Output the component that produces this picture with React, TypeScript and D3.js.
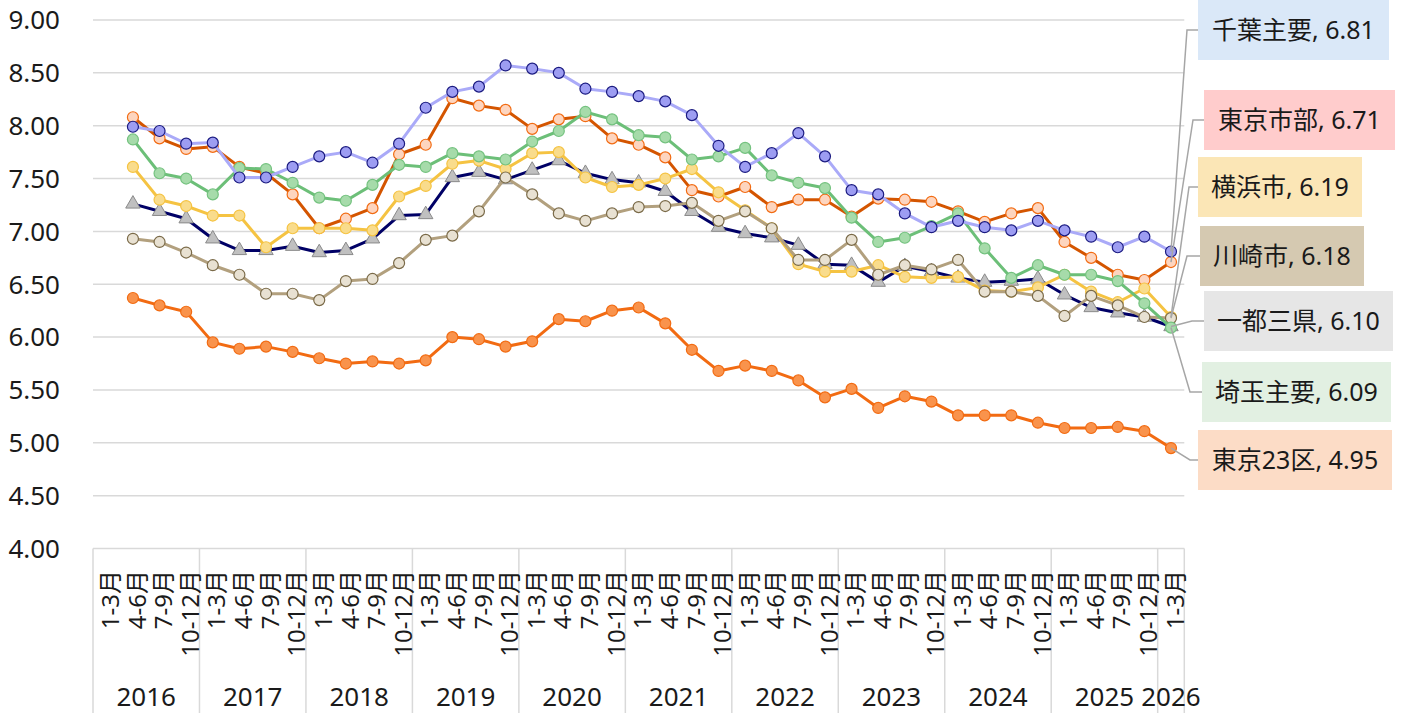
import { useEffect, useRef } from 'react'
import * as d3 from 'd3'

// quarters 2016 1-3月 .. 2026 1-3月 (41 categories)
const years = ['2016', '2017', '2018', '2019', '2020', '2021', '2022', '2023', '2024', '2025', '2026']
const quarterNames = ['1-3月', '4-6月', '7-9月', '10-12月']
const yTicks = [4.0, 4.5, 5.0, 5.5, 6.0, 6.5, 7.0, 7.5, 8.0, 8.5, 9.0]

// first category has no value in the source chart
const ittoSanken = [null, 7.26, 7.19, 7.12, 6.93, 6.82, 6.82, 6.86, 6.80, 6.82, 6.93,
  7.15, 7.16, 7.51, 7.56, 7.49, 7.58, 7.67, 7.55, 7.49, 7.46,
  7.38, 7.19, 7.04, 6.98, 6.94, 6.87, 6.69, 6.68, 6.52, 6.67,
  6.62, 6.56, 6.52, 6.53, 6.55, 6.40, 6.28, 6.23, 6.19, 6.10]
const tokyo23 = [null, 6.37, 6.30, 6.24, 5.95, 5.89, 5.91, 5.86, 5.80, 5.75, 5.77,
  5.75, 5.78, 6.00, 5.98, 5.91, 5.96, 6.17, 6.15, 6.25, 6.28,
  6.13, 5.88, 5.68, 5.73, 5.68, 5.59, 5.43, 5.51, 5.33, 5.44,
  5.39, 5.26, 5.26, 5.26, 5.19, 5.14, 5.14, 5.15, 5.11, 4.95]
const tokyoShibu = [null, 8.08, 7.88, 7.78, 7.80, 7.61, 7.55, 7.35, 7.03, 7.12, 7.22,
  7.73, 7.82, 8.26, 8.19, 8.15, 7.97, 8.06, 8.09, 7.88, 7.82,
  7.70, 7.39, 7.33, 7.42, 7.23, 7.30, 7.30, 7.14, 7.31, 7.30,
  7.28, 7.19, 7.09, 7.17, 7.22, 6.90, 6.75, 6.59, 6.54, 6.71]
const yokohama = [null, 7.61, 7.30, 7.24, 7.15, 7.15, 6.85, 7.03, 7.03, 7.03, 7.01,
  7.33, 7.43, 7.64, 7.67, 7.59, 7.74, 7.75, 7.51, 7.42, 7.44,
  7.50, 7.59, 7.37, 7.20, 7.03, 6.69, 6.62, 6.62, 6.68, 6.57,
  6.56, 6.57, 6.44, 6.43, 6.47, 6.59, 6.43, 6.33, 6.46, 6.19]
const kawasaki = [null, 6.93, 6.90, 6.80, 6.68, 6.59, 6.41, 6.41, 6.35, 6.53, 6.55,
  6.70, 6.92, 6.96, 7.19, 7.51, 7.35, 7.17, 7.10, 7.17, 7.23,
  7.24, 7.27, 7.10, 7.19, 7.03, 6.73, 6.73, 6.92, 6.59, 6.68,
  6.64, 6.73, 6.43, 6.43, 6.39, 6.20, 6.39, 6.30, 6.19, 6.18]
const saitama = [null, 7.87, 7.55, 7.50, 7.35, 7.60, 7.59, 7.46, 7.32, 7.29, 7.44,
  7.63, 7.61, 7.74, 7.71, 7.68, 7.85, 7.95, 8.13, 8.06, 7.91,
  7.89, 7.68, 7.71, 7.79, 7.53, 7.46, 7.41, 7.13, 6.90, 6.94,
  7.05, 7.17, 6.84, 6.56, 6.68, 6.59, 6.59, 6.53, 6.32, 6.09]
const chiba = [null, 7.99, 7.95, 7.83, 7.84, 7.51, 7.51, 7.61, 7.71, 7.75, 7.65,
  7.83, 8.17, 8.32, 8.37, 8.57, 8.54, 8.50, 8.35, 8.32, 8.28,
  8.23, 8.10, 7.81, 7.61, 7.74, 7.93, 7.71, 7.39, 7.35, 7.17,
  7.04, 7.10, 7.04, 7.01, 7.10, 7.01, 6.95, 6.85, 6.95, 6.81]

// drawing order: bottom to top
const series = [
  { name: '一都三県', values: ittoSanken, line: '#000066', fill: '#c0c0c0', stroke: '#8a8a8a', shape: 'triangle', box: '#e6e6e6' },
  { name: '東京23区', values: tokyo23, line: '#f26b12', fill: '#f9934c', stroke: '#f26b12', shape: 'circle', box: '#fcdcc6' },
  { name: '東京市部', values: tokyoShibu, line: '#d45500', fill: '#fdd5bf', stroke: '#f26b12', shape: 'circle', box: '#ffcccc' },
  { name: '横浜市', values: yokohama, line: '#f5c342', fill: '#f9dc8c', stroke: '#f5c342', shape: 'circle', box: '#fbe6b6' },
  { name: '川崎市', values: kawasaki, line: '#b2a07e', fill: '#e8e1d2', stroke: '#7a6a48', shape: 'circle', box: '#d5c9b1' },
  { name: '埼玉主要', values: saitama, line: '#6cbf78', fill: '#a6dbaa', stroke: '#74c27f', shape: 'circle', box: '#e2f0e2' },
  { name: '千葉主要', values: chiba, line: '#aaaaf8', fill: '#9d9df2', stroke: '#1a1a80', shape: 'circle', box: '#dae8f8' },
]

// end label boxes (layout only)
const labelLayout: Record<string, { x: number, y: number, w: number, elbow: number }> = {
  '千葉主要': { x: 1198, y: 0, w: 191, elbow: 1187 },
  '東京市部': { x: 1204, y: 90, w: 191, elbow: 1193 },
  '横浜市': { x: 1198, y: 157, w: 164, elbow: 1189 },
  '川崎市': { x: 1200, y: 226, w: 164, elbow: 1187 },
  '一都三県': { x: 1204, y: 291, w: 189, elbow: 1192 },
  '埼玉主要': { x: 1202, y: 362, w: 189, elbow: 1190 },
  '東京23区': { x: 1198, y: 430, w: 194, elbow: 1190 },
}

const categories = years.flatMap(yr =>
  (yr === '2026' ? quarterNames.slice(0, 1) : quarterNames).map(q => ({ year: yr, q }))
)

const FONT = '"Noto Sans", "Noto Sans CJK JP", sans-serif'

function LineChart() {
  const ref = useRef<SVGSVGElement>(null)

  useEffect(() => {
    const svg = d3.select(ref.current)
    svg.selectAll('*').remove()

    const left = 93
    const right = 1184.3
    const top = 20
    const bottom = 548.5

    const x = d3.scaleBand<number>()
      .domain(d3.range(categories.length))
      .range([left, right])
    const cx = (i: number) => (x(i) as number) + x.bandwidth() / 2

    const y = d3.scaleLinear()
      .domain([4, 9])
      .range([bottom, top])

    // gridlines
    svg.append('g')
      .selectAll('line')
      .data(yTicks)
      .join('line')
      .attr('x1', left)
      .attr('x2', right)
      .attr('y1', d => y(d))
      .attr('y2', d => y(d))
      .attr('stroke', '#d9d9d9')
      .attr('stroke-width', 1.5)

    svg.append('g')
      .selectAll('text')
      .data(yTicks)
      .join('text')
      .attr('x', 60)
      .attr('y', d => y(d))
      .attr('dy', '0.36em')
      .attr('text-anchor', 'end')
      .attr('font-family', FONT)
      .attr('font-size', 26)
      .attr('fill', '#1a1a1a')
      .text(d => d.toFixed(2))

    // category axis: year separators
    const yearStarts = years.map(yr => categories.findIndex(c => c.year === yr))
    const seps = yearStarts.map(i => x(i) as number).concat([right])
    svg.append('g')
      .selectAll('line')
      .data(seps)
      .join('line')
      .attr('x1', d => d)
      .attr('x2', d => d)
      .attr('y1', bottom)
      .attr('y2', 713)
      .attr('stroke', '#d9d9d9')
      .attr('stroke-width', 1.5)

    svg.append('g')
      .selectAll('text')
      .data(categories)
      .join('text')
      .attr('transform', (d, i) => `translate(${cx(i) + 4}, 570) rotate(-90)`)
      .attr('dy', '0.36em')
      .attr('text-anchor', 'end')
      .attr('font-family', FONT)
      .attr('font-size', 24)
      .attr('fill', '#1a1a1a')
      .text(d => d.q)

    svg.append('g')
      .selectAll('text')
      .data(years)
      .join('text')
      .attr('x', (d, k) => (seps[k] + seps[k + 1]) / 2)
      .attr('y', 706)
      .attr('text-anchor', 'middle')
      .attr('font-family', FONT)
      .attr('font-size', 26)
      .attr('fill', '#1a1a1a')
      .text(d => d)

    const line = d3.line<number | null>()
      .defined(d => d != null)
      .x((d, i) => cx(i))
      .y(d => y(d as number))

    const triangle = d3.symbol().type(d3.symbolTriangle).size(90)

    series.forEach(s => {
      const g = svg.append('g')
      g.append('path')
        .datum(s.values)
        .attr('d', line)
        .attr('fill', 'none')
        .attr('stroke', s.line)
        .attr('stroke-width', 3)
        .attr('stroke-linejoin', 'round')

      const pts = s.values
        .map((v, i) => ({ v, i }))
        .filter(p => p.v != null)

      if (s.shape === 'triangle') {
        g.selectAll('path.m')
          .data(pts)
          .join('path')
          .attr('class', 'm')
          .attr('d', triangle)
          .attr('transform', p => `translate(${cx(p.i)}, ${y(p.v as number)})`)
          .attr('fill', s.fill)
          .attr('stroke', s.stroke)
          .attr('stroke-width', 1)
      } else {
        g.selectAll('circle')
          .data(pts)
          .join('circle')
          .attr('cx', p => cx(p.i))
          .attr('cy', p => y(p.v as number))
          .attr('r', 5.5)
          .attr('fill', s.fill)
          .attr('stroke', s.stroke)
          .attr('stroke-width', 1.2)
      }
    })

    // end labels with leader lines
    const last = categories.length - 1
    series.forEach(s => {
      const lay = labelLayout[s.name]
      const v = s.values[last] as number
      const midY = lay.y + 30
      svg.append('polyline')
        .attr('points', `${cx(last)},${y(v)} ${lay.elbow},${midY} ${lay.x},${midY}`)
        .attr('fill', 'none')
        .attr('stroke', '#a6a6a6')
        .attr('stroke-width', 1.5)
    })
    series.forEach(s => {
      const lay = labelLayout[s.name]
      const v = s.values[last] as number
      svg.append('rect')
        .attr('x', lay.x)
        .attr('y', lay.y)
        .attr('width', lay.w)
        .attr('height', 60)
        .attr('fill', s.box)
      svg.append('text')
        .attr('x', lay.x + lay.w / 2)
        .attr('y', lay.y + 30)
        .attr('dy', '0.36em')
        .attr('text-anchor', 'middle')
        .attr('font-family', FONT)
        .attr('font-size', 25)
        .attr('fill', '#1a1a1a')
        .text(`${s.name}, ${v.toFixed(2)}`)
    })
  })

  return (
    <svg
      ref={ref}
      width={1404}
      height={713}
      style={{ position: 'absolute', left: 0, top: 0, background: '#fff' }}
    />
  )
}

export default function App() {
  return <LineChart />
}
